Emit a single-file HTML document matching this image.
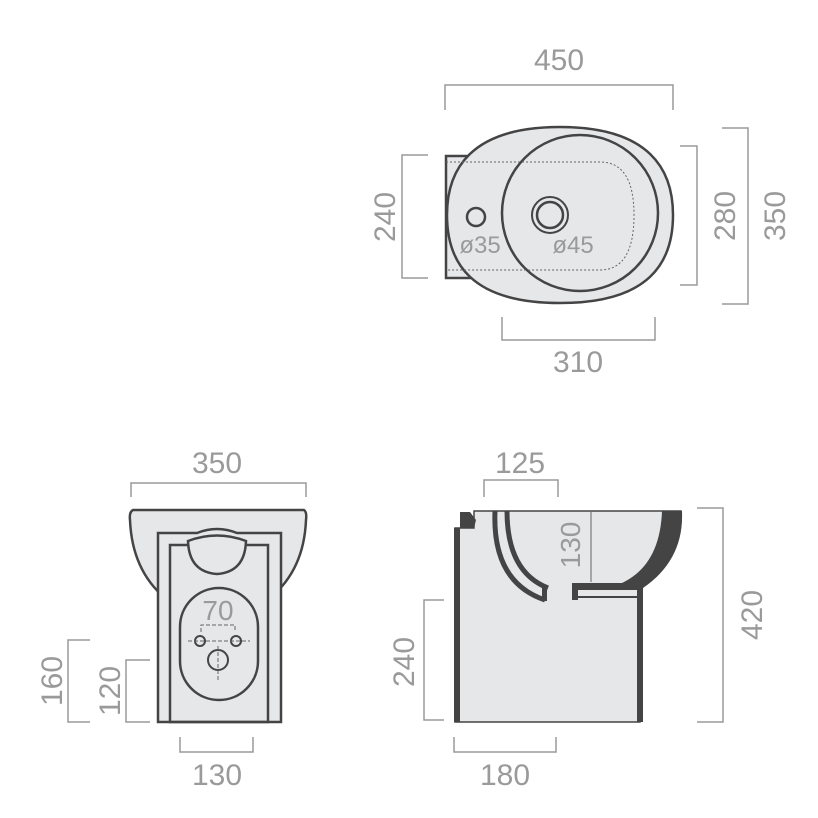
<!DOCTYPE html>
<html><head><style>
html,body{margin:0;padding:0;background:#fff}
svg{display:block}
text{font-family:"Liberation Sans",sans-serif;fill:#9a9a9a}
</style></head><body>
<svg width="818" height="818" viewBox="0 0 818 818" xmlns="http://www.w3.org/2000/svg">
<g fill="none" stroke="#9a9a9a" stroke-width="1.5">
<path d="M445 110V85H673V110"/>
<path d="M722 128H748V304H722"/>
<path d="M680 146H697V285H680"/>
<path d="M428 155H402V278H428"/>
<path d="M502 317V340H655V317"/>
<path d="M131 497V483H306V497"/>
<path d="M90 640H68V722H90"/>
<path d="M150 660H126V722H150"/>
<path d="M180 737V752H253V737"/>
<path d="M484 497V480H558V497"/>
<path d="M697 508H723V722H697"/>
<path d="M444 600H424V720H444"/>
<path d="M454 737V752H556V737"/>
</g>
<g font-size="30" text-anchor="middle">
<text x="559" y="70">450</text>
<text x="578" y="372">310</text>
<text transform="translate(785,216) rotate(-90)">350</text>
<text transform="translate(735,216) rotate(-90)">280</text>
<text transform="translate(395,217) rotate(-90)">240</text>
<text x="217" y="473">350</text>
<text transform="translate(62,681) rotate(-90)">160</text>
<text transform="translate(120,691) rotate(-90)">120</text>
<text x="217" y="785">130</text>
<text x="520" y="473">125</text>
<text transform="translate(762,615) rotate(-90)">420</text>
<text transform="translate(414,662) rotate(-90)">240</text>
<text x="505" y="785">180</text>
</g>
<!-- TOP VIEW -->
<g stroke="#444" stroke-width="2.5" fill="#e6e7e9">
<rect x="446" y="156" width="40" height="122"/>
<path d="M560 127C650 127 673 170 673 215C673 262 650 303 560 303C470 303 447 262 447 215C447 170 470 127 560 127Z"/>
<ellipse cx="580" cy="213" rx="78" ry="78"/>
<circle cx="476" cy="217" r="9"/>
<circle cx="550" cy="215" r="18" stroke-width="2"/>
<circle cx="550" cy="215" r="13"/>
</g>
<path d="M446 162H600Q634 162 634 215Q634 270 600 270H446" fill="none" stroke="#666" stroke-width="1" stroke-dasharray="2 2"/>
<g font-size="24" text-anchor="middle"><text x="480" y="253">ø35</text><text x="573" y="253">ø45</text></g>
<!-- FRONT VIEW -->
<g stroke="#444" stroke-width="2.5" fill="#e6e7e9">
<path d="M133 510H304Q307 512 306 520Q304 570 270 598H165Q132 570 130 520Q129 512 133 510Z"/>
<path d="M158 533H197Q217 525 237 533H281V722H158Z"/>
<path d="M170 545H268V722H170Z" fill="none"/>
<path d="M188 541Q217 530 246 541Q245 572 217 574Q189 572 188 541Z"/>
<rect x="180" y="588" width="78" height="112" rx="39"/>
<circle cx="200" cy="641" r="5" stroke-width="2"/>
<circle cx="236" cy="641" r="5" stroke-width="2"/>
<circle cx="218" cy="660" r="10" stroke-width="2"/>
</g>
<text x="218" y="620" font-size="28" text-anchor="middle">70</text>
<path d="M201 632V625H235V632M188 641H250M218 646V680" stroke="#666" stroke-width="1" fill="none" stroke-dasharray="4 2"/>
<!-- SIDE VIEW -->
<path d="M460 528H474V511H681Q684 560 640 588V722H455V528Z" fill="#e6e7e9" stroke="#444" stroke-width="1.5"/>
<path d="M662 511H682Q684 560 643 588V722H637V590H577V583H622Q660 565 662 511Z" fill="#444"/>
<path d="M454 528H460V722H454Z" fill="#444"/>
<path d="M460 528V512H470L476 520L474 528Z" fill="#444"/>
<path d="M495 511Q492 582 545 600" fill="none" stroke="#444" stroke-width="5"/>
<path d="M507 511Q507 572 548 588" fill="none" stroke="#444" stroke-width="5"/>
<rect x="542" y="588" width="5" height="13" fill="#444"/>
<rect x="572" y="583" width="6" height="17" fill="#444"/>
<path d="M577 597H637" stroke="#444" stroke-width="2"/>
<path d="M591 512V582" stroke="#666" stroke-width="1"/>
<text transform="translate(580,545) rotate(-90)" font-size="28" text-anchor="middle">130</text>
</svg>
</body></html>
